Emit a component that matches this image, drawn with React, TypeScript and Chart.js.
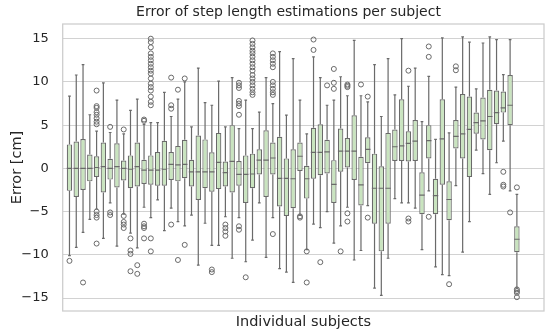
import React, { useEffect, useRef } from "react";
import { Chart, registerables } from "chart.js";

Chart.register(...registerables);

const subjects = Array.from({ length: 67 }, (_, i) => i + 1);

const whiskerLow = [
  -10.1, -9.15, -7.4, -5.9, -4.7, -8.1, -4.0, -9.0, -5.3, -7.5,
  -9.2, -4.5, -5.7, -3.65, -7.2, -4.6, -6.15, -6.65, -5.4, -11.2,
  -6.35, -8.9, -8.9, -5.6, -10.4, -5.7, -10.8, -8.3, -4.0, -10.3,
  -5.7, -11.6, -12.0, -13.2, -5.4, -9.4, -6.45, -6.85, -5.0, -8.65,
  -6.65, -4.5, -10.6, -9.5, -4.3, -13.85, -14.7, -10.4, -3.5, -4.0,
  -4.0, -4.6, -9.4, -2.6, -11.4, -12.3, -12.4, -2.0, -9.7, -6.15,
  2.1, -0.6, -3.0, 0.65, 3.15, -2.6, -13.85,
];
const q1 = [
  -2.6, -3.3, -2.5, -1.5, -1.0, -2.8, -1.3, -2.2, -1.4, -2.3,
  -2.1, -1.8, -1.9, -2.0, -2.0, -1.35, -1.5, -1.15, -2.1, -3.65,
  -2.3, -2.7, -2.4, -2.1, -2.8, -2.0, -4.0, -2.3, -0.7, -3.3,
  -0.7, -4.4, -5.5, -4.6, -0.3, -3.5, -1.2, -0.8, -0.6, -4.0,
  -0.4, 0.1, -1.35, -4.3, 0.6, -6.4, -9.6, -6.4, 0.85, 0.85,
  0.8, 0.85, -5.3, 1.15, -5.3, -1.9, -6.0, 2.3, 1.15, -1.0,
  4.0, 3.35, 2.1, 5.1, 6.45, 5.0, -9.7,
];
const median = [
  0, 0, 0, 0, 0.1, 0.2, 0, 0.2, 0, -0.1,
  0.2, -0.2, -0.2, -0.2, -0.1, 0.45, 0.4, 0.45, -0.4, -0.4,
  -0.4, -0.4, 0.7, -0.5, 0.8, -0.7, -0.7, -0.65, 0.95, 0.95,
  1.2, -1.15, -1.15, -1.2, 1.4, -1.2, 1.85, 1.85, 1.9, -1.85,
  2.0, 2.0, 2.0, -1.9, 2.2, -2.3, -2.3, -2.3, 2.5, 2.6,
  2.9, 3.15, -3.1, 3.2, -3.15, 3.4, -3.6, 3.7, 4.0, 4.5,
  5.3, 5.5, 6.0, 6.45, 7.0, 7.3, -8.2,
];
const q3 = [
  2.77, 3.1, 3.4, 1.6, 1.4, 3.0, 1.1, 2.9, 0.9, 1.5,
  3.0, 1.0, 1.5, 1.9, 3.2, 1.9, 2.6, 3.3, 1.0, 3.8,
  3.35, 1.85, 4.1, 0.8, 5.0, 0.85, 1.5, 1.7, 2.2, 4.4,
  3.0, 3.65, 1.15, 2.2, 3.0, 0.3, 4.7, 5.1, 3.3, 0.95,
  4.6, 3.5, 6.15, 1.35, 3.6, 1.7, 0.25, 4.1, 4.5, 8.0,
  4.3, 5.6, -0.45, 5.0, -1.2, 8.0, -1.5, 5.6, 8.6, 8.3,
  6.45, 8.2, 9.1, 9.0, 8.9, 10.8, -6.7,
];
const whiskerHigh = [
  8.35, 10.8, 12.0, 6.2, 4.3, 9.9, 4.15, 7.9, 4.0, 6.7,
  8.0, 5.1, 5.3, 5.3, 8.8, 6.0, 8.0, 10.0, 4.8, 11.6,
  7.6, 7.3, 10.1, 4.8, 10.5, 4.6, 7.9, 4.6, 6.5, 10.5,
  7.5, 13.5, 6.15, 12.7, 7.9, 4.0, 12.9, 10.5, 7.3, 7.9,
  10.6, 8.4, 14.8, 8.4, 7.7, 12.0, 6.0, 12.7, 8.5, 15.0,
  9.5, 11.6, 5.4, 10.65, 3.35, 15.1, 4.1, 9.4, 15.2, 14.6,
  9.2, 14.5, 15.2, 14.9, 10.85, 14.9, -3.0,
];
const outliers: number[][] = [
  [-10.7], [], [-13.2], [], [9.0, 7.2, 7.0, 6.5, 6.2, 5.8, 5.4, 5.1, -5.0, -5.4, -5.7, -8.7],
  [], [4.8, -5.1, -5.4], [], [4.5, -5.5, -6.2, -6.5, -6.9], [-8.1, -9.5, -9.9, -11.9],
  [-11.2, -12.2], [5.65, 5.5, -6.4, -6.7, -6.9, -8.1],
  [15, 14.6, 14.0, 13.3, 12.9, 12.5, 12.1, 11.7, 11.3, 10.96, 10.4, 9.8, 9.4, 9.0, 8.3, 7.7, 7.3, -8.1, -9.6],
  [], [], [10.5, 7.3, 6.9, -6.5], [9.1, -10.6], [10.4, -8.85], [], [],
  [], [-11.7, -12.0], [], [-6.5, -6.9, -7.3, -7.8], [],
  [9.9, 9.6, 9.3, 7.8, 7.5, 7.2, 6.2, -6.7, -7.1], [-12.6],
  [14.8, 14.4, 14.0, 13.6, 13.3, 12.9, 12.5, 12.1, 11.7, 11.3, 10.8, 10.4, 10.0, 9.6, 9.2, 8.8, 8.5],
  [], [],
  [13.3, 12.9, 12.5, 12.1, 11.7, 10.0, 9.6, 9.2, 8.8, 8.5, -7.6], [], [], [], [-5.55, -5.7],
  [-9.6, -13.2], [14.9, 13.7], [-10.85], [9.6], [11.5, 9.9, 9.2],
  [-9.6], [9.7, 9.55, 9.4, -5.2, -6.15], [], [9.7], [8.3, -5.7],
  [], [], [], [], [],
  [11.3, -5.8, -6.15], [], [], [14.1, 12.9, -5.6], [],
  [], [-13.4], [11.8, 11.35], [], [],
  [], [], [], [], [-0.4, -1.9, -2.1], [-5.1], [-2.2, -14.0, -14.2, -14.4, -14.9],
];
const yTicks = [-15, -10, -5, 0, 5, 10, 15];

const LINE = "#6a6a6a";
const FILL = "#c9e4bf";
const GRID = "#d2d2d2";
const FONT = "'DejaVu Sans', sans-serif";

const boxPlugin = {
  id: "boxExtras",
  afterLayout(chart: any) {
    const ys = chart.scales.y;
    if (ys) {
      ys.left = 0;
      ys.width = ys.right - ys.left;
    }
  },
  beforeDraw(chart: any) {
    const { ctx } = chart;
    ctx.save();
    ctx.fillStyle = "#ffffff";
    ctx.fillRect(0, 0, chart.width, chart.height);
    ctx.restore();
  },
  afterDatasetsDraw(chart: any) {
    const { ctx, scales } = chart;
    const xs = scales.x;
    const ys = scales.y;
    const step = xs.getPixelForValue(1) - xs.getPixelForValue(0);
    const half = step * 0.4;
    const cap = half * 0.5;
    ctx.save();
    ctx.strokeStyle = LINE;
    ctx.lineWidth = 1.2;
    subjects.forEach((s, i) => {
      const cx = xs.getPixelForValue(s);
      const yLo = ys.getPixelForValue(whiskerLow[i]);
      const yQ1 = ys.getPixelForValue(q1[i]);
      const yMed = ys.getPixelForValue(median[i]);
      const yQ3 = ys.getPixelForValue(q3[i]);
      const yHi = ys.getPixelForValue(whiskerHigh[i]);
      ctx.beginPath();
      ctx.moveTo(cx, yQ1);
      ctx.lineTo(cx, yLo);
      ctx.moveTo(cx, yQ3);
      ctx.lineTo(cx, yHi);
      ctx.moveTo(cx - cap, yLo);
      ctx.lineTo(cx + cap, yLo);
      ctx.moveTo(cx - cap, yHi);
      ctx.lineTo(cx + cap, yHi);
      ctx.moveTo(cx - half, yMed);
      ctx.lineTo(cx + half, yMed);
      ctx.stroke();
    });
    ctx.restore();
  },
  afterDraw(chart: any) {
    const { ctx, chartArea } = chart;
    ctx.save();
    ctx.strokeStyle = "#cccccc";
    ctx.lineWidth = 1.25;
    ctx.strokeRect(chartArea.left, chartArea.top, chartArea.right - chartArea.left, chartArea.bottom - chartArea.top);
    ctx.restore();
  },
};

export default function App() {
  const ref = useRef<HTMLCanvasElement | null>(null);
  useEffect(() => {
    document.body.style.margin = "0";
    if (!ref.current) return;
    const boxData = subjects.map((s, i) => ({ x: s, y: [q1[i], q3[i]] }));
    const outData: { x: number; y: number }[] = [];
    subjects.forEach((s, i) => outliers[i].forEach((v) => outData.push({ x: s, y: v })));
    const chart = new Chart(ref.current, {
      type: "bar",
      data: {
        datasets: [
          {
            type: "bar",
            data: boxData as any,
            backgroundColor: FILL,
            borderColor: LINE,
            borderWidth: 1.2,
            borderSkipped: false,
            barPercentage: 0.8,
            categoryPercentage: 1,
            order: 2,
          },
          {
            type: "scatter",
            data: outData as any,
            pointStyle: "circle",
            pointRadius: 2.5,
            borderColor: LINE,
            borderWidth: 1,
            backgroundColor: "rgba(0,0,0,0)",
            order: 1,
          } as any,
        ],
      },
      options: {
        animation: false,
        responsive: false,
        maintainAspectRatio: false,
        layout: { padding: { left: 33, right: 6, top: 0, bottom: 0 } },
        plugins: {
          legend: { display: false },
          tooltip: { enabled: false },
          title: {
            display: true,
            text: "Error of step length estimations per subject",
            color: "#262626",
            font: { family: FONT, size: 14, weight: "normal" },
            padding: { top: 3.6, bottom: 3.6 },
          },
        },
        scales: {
          x: {
            type: "linear",
            min: 0,
            max: 71,
            offset: false,
            grid: { display: false, drawTicks: false },
            border: { display: false },
            ticks: { display: false },
            title: {
              display: true,
              text: "Individual subjects",
              color: "#262626",
              font: { family: FONT, size: 14.5 },
              padding: { top: 0, bottom: 3.5 },
            },
            afterFit: (scale: any) => {
              scale.height = 23;
            },
          },
          y: {
            type: "linear",
            min: -16.5,
            max: 16.7,
            grid: { color: GRID, lineWidth: 1, drawTicks: false },
            border: { display: false },
            afterBuildTicks: (scale: any) => {
              scale.ticks = yTicks.map((v) => ({ value: v }));
            },
            ticks: {
              color: "#262626",
              font: { family: FONT, size: 13 },
              padding: 14,
              callback: (v: any) => String(v).replace("-", "\u2212"),
            },
            title: {
              display: true,
              text: "Error [cm]",
              color: "#262626",
              font: { family: FONT, size: 14.5 },
              padding: { top: 8.3, bottom: 0 },
            },
            afterFit: (scale: any) => {
              scale.width = 29.7;
            },
          },
        },
      },
      plugins: [boxPlugin],
    });
    return () => chart.destroy();
  }, []);
  return (
    <div style={{ width: 550, height: 334 }}>
      <canvas ref={ref} width={550} height={334} style={{ display: "block" }} />
    </div>
  );
}
